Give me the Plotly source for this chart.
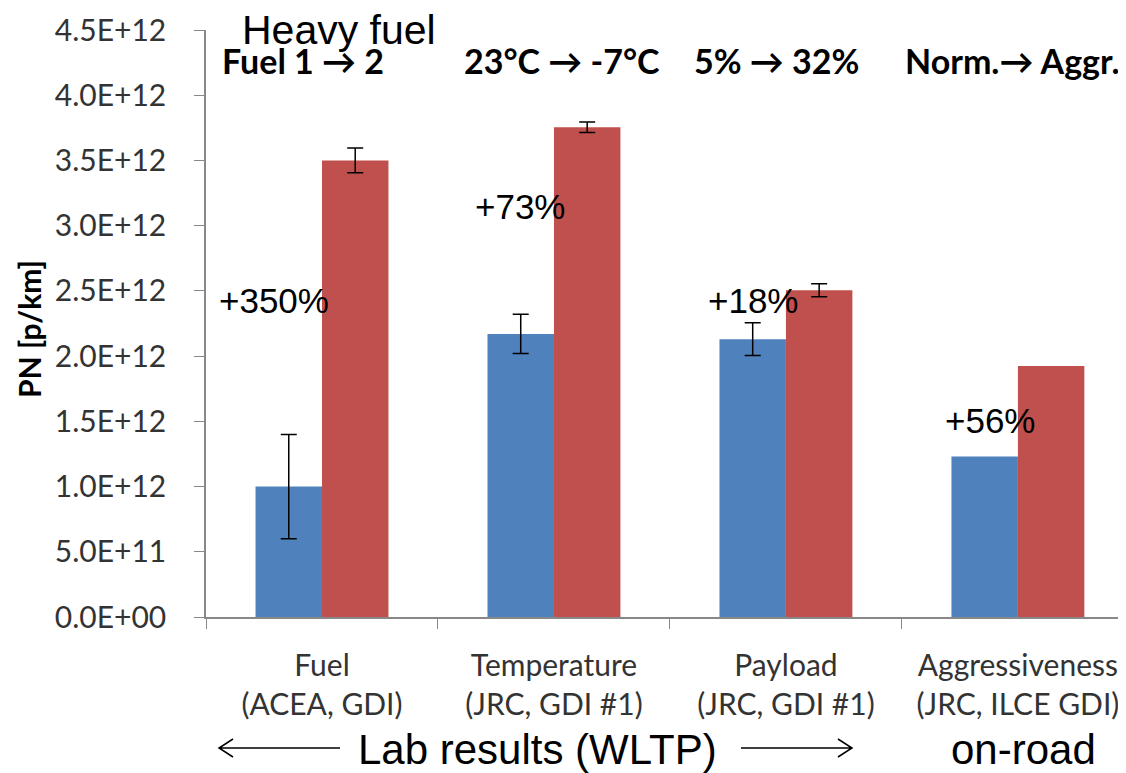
import plotly.graph_objects as go

categories = ["Fuel<br>(ACEA, GDI)", "Temperature<br>(JRC, GDI #1)",
              "Payload<br>(JRC, GDI #1)", "Aggressiveness<br>(JRC, ILCE GDI)"]
base_values = [1.00e12, 2.17e12, 2.13e12, 1.23e12]
changed_values = [3.50e12, 3.755e12, 2.505e12, 1.925e12]
# error bars exist only for the three lab-test categories
base_err = [0.40e12, 0.15e12, 0.125e12]
changed_err = [0.095e12, 0.04e12, 0.05e12]
pct_labels = ["+350%", "+73%", "+18%", "+56%"]
top_labels = ["Fuel 1 \u2192 2", "23°C \u2192 -7°C", "5% \u2192 32%", "Norm.\u2192 Aggr."]
ytick_vals = [0, 0.5e12, 1.0e12, 1.5e12, 2.0e12, 2.5e12, 3.0e12, 3.5e12, 4.0e12, 4.5e12]
ytick_text = ["0.0E+00", "5.0E+11", "1.0E+12", "1.5E+12", "2.0E+12", "2.5E+12",
              "3.0E+12", "3.5E+12", "4.0E+12", "4.5E+12"]

BLUE = "#4F81BD"
RED = "#C0504D"
CAL = "Lato, Carlito, Calibri, sans-serif"
ARIAL = "Liberation Sans, Arial, sans-serif"

# page offset of the figure (default body margin) and plot area in page pixels
OX, OY = 8, 8
W, H = 1126 - OX, 773 - OY
L, R, T, B = 206, 1126, 30, 617


def px(x):
    return (x - L) / (R - L)


def py(y):
    return (B - y) / (B - T)


n_err = len(base_err)
fig = go.Figure()
fig.add_trace(go.Bar(x=categories, y=base_values, marker_color=BLUE, offsetgroup="a",
                     marker_line_width=0))
fig.add_trace(go.Bar(x=categories, y=changed_values, marker_color=RED, offsetgroup="b",
                     marker_line_width=0))
# transparent overlays carrying the error bars
fig.add_trace(go.Bar(x=categories[:n_err], y=base_values[:n_err], offsetgroup="a",
                     marker_color="rgba(0,0,0,0)", marker_line_width=0,
                     error_y=dict(type="data", array=base_err, visible=True, color="black",
                                  thickness=1.5, width=8)))
fig.add_trace(go.Bar(x=categories[:n_err], y=changed_values[:n_err], offsetgroup="b",
                     marker_color="rgba(0,0,0,0)", marker_line_width=0,
                     error_y=dict(type="data", array=changed_err, visible=True, color="black",
                                  thickness=1.5, width=8)))

annotations = []
pct_pos = [(274, 300), (520, 206), (753, 300), (990, 420)]
for t, (x, y) in zip(pct_labels, pct_pos):
    annotations.append(dict(text=t, x=px(x), y=py(y), xref="paper", yref="paper",
                            showarrow=False, font=dict(family=ARIAL, size=35, color="black"),
                            xanchor="center", yanchor="middle"))
top_pos = [(303, "center"), (562, "center"), (776, "center"), (903, "left")]
for t, (x, anc) in zip(top_labels, top_pos):
    annotations.append(dict(text="<b>" + t + "</b>", x=px(x), y=py(60), xref="paper", yref="paper",
                            showarrow=False, font=dict(family=CAL, size=34, color="black"),
                            xanchor=anc, yanchor="middle"))
annotations.append(dict(text="Heavy fuel", x=px(339), y=py(30), xref="paper", yref="paper",
                        showarrow=False, font=dict(family=ARIAL, size=41, color="black"),
                        xanchor="center", yanchor="middle"))
annotations.append(dict(text="Lab results (WLTP)", x=px(537), y=py(749), xref="paper", yref="paper",
                        showarrow=False, font=dict(family=ARIAL, size=42, color="black"),
                        xanchor="center", yanchor="middle"))
annotations.append(dict(text="on-road", x=px(1023), y=py(749), xref="paper", yref="paper",
                        showarrow=False, font=dict(family=ARIAL, size=42, color="black"),
                        xanchor="center", yanchor="middle"))
annotations.append(dict(text="<b>PN [p/km]</b>", x=px(29), y=py(329), xref="paper", yref="paper",
                        showarrow=False, textangle=-90,
                        font=dict(family=CAL, size=30, color="black"),
                        xanchor="center", yanchor="middle"))


def arrow_path(x0, x1, y, head_left):
    p = f"M {px(x0)},{py(y)} L {px(x1)},{py(y)} "
    if head_left:
        p += f"M {px(x0 + 14)},{py(y - 9)} L {px(x0)},{py(y)} L {px(x0 + 14)},{py(y + 9)}"
    else:
        p += f"M {px(x1 - 14)},{py(y - 9)} L {px(x1)},{py(y)} L {px(x1 - 14)},{py(y + 9)}"
    return p


shapes = [
    dict(type="path", xref="paper", yref="paper", path=arrow_path(219, 340, 748, True),
         line=dict(color="black", width=1.5)),
    dict(type="path", xref="paper", yref="paper", path=arrow_path(741, 852, 748, False),
         line=dict(color="black", width=1.5)),
]

fig.update_layout(
    width=W, height=H,
    margin=dict(l=L - OX, r=0, t=T - OY, b=H - (B - OY), pad=0, autoexpand=False),
    paper_bgcolor="white", plot_bgcolor="white",
    barmode="group", bargap=0.427, bargroupgap=0,
    showlegend=False,
    annotations=annotations, shapes=shapes,
    font=dict(family=CAL, color="#222"),
)
fig.update_xaxes(
    range=[-0.5, 3.466], showline=True, linecolor="#888", linewidth=1.5,
    ticks="outside", tickson="boundaries", ticklen=10, tickcolor="#888",
    tickfont=dict(family=CAL, size=30, color="#333"), showgrid=False,
    automargin=False, ticklabelstandoff=21,
)
fig.update_yaxes(
    range=[0, 4.5e12], tickvals=ytick_vals, ticktext=ytick_text,
    showline=True, linecolor="#888", linewidth=1.5,
    ticks="outside", ticklen=10, tickcolor="#888", showgrid=False, zeroline=False,
    tickfont=dict(family=CAL, size=30, color="#333"),
    automargin=False, ticklabelstandoff=22,
)

fig.write_html("out.html")
